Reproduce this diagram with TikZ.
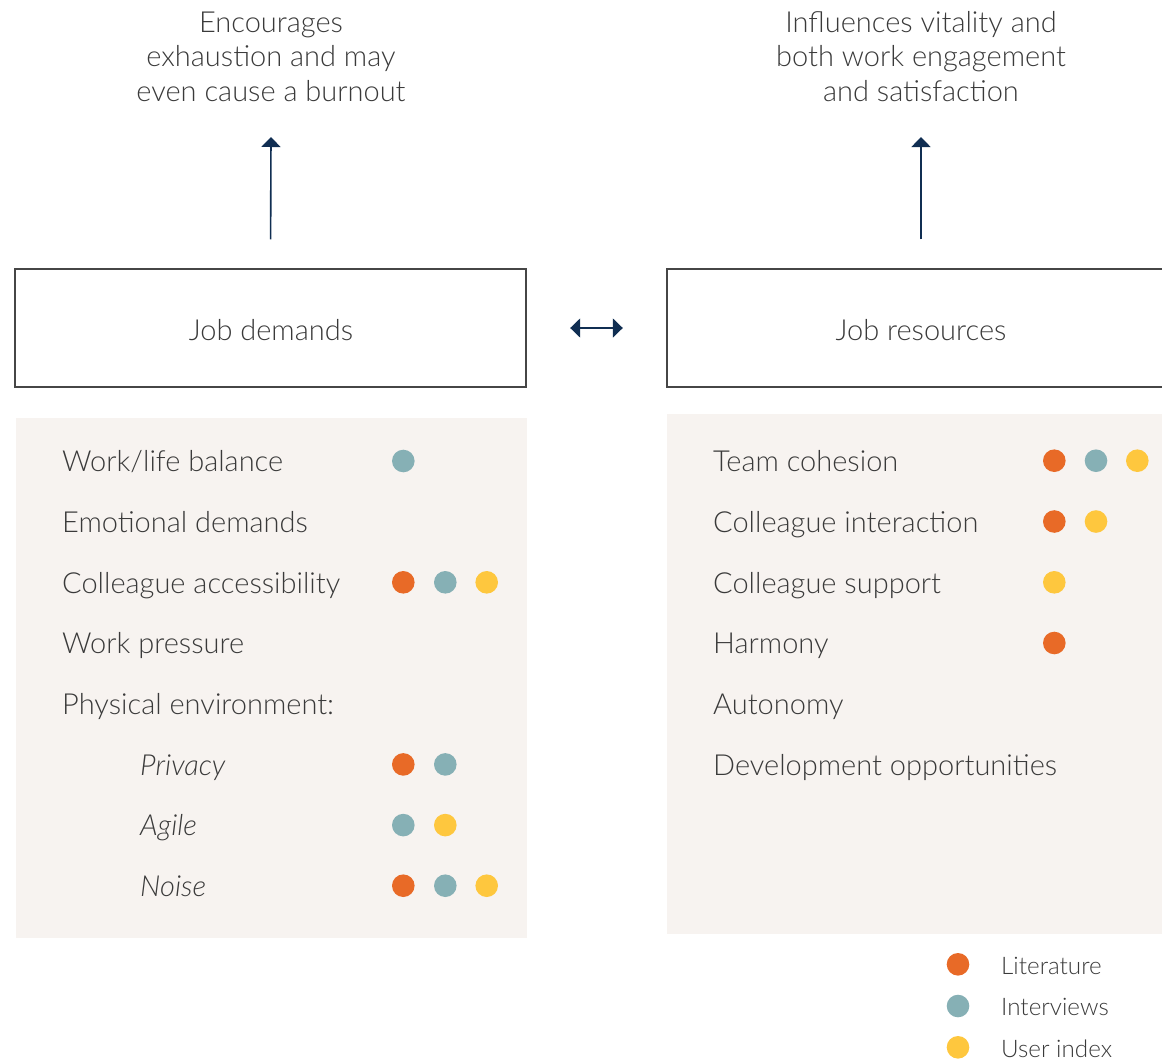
\documentclass[tikz,border=0pt]{standalone}
\usepackage{fontspec}
\setmainfont{Lato}[UprightFont={* Light},ItalicFont={* Light Italic}]
\usetikzlibrary{arrows.meta}

\definecolor{ink}{RGB}{58,58,58}
\definecolor{navy}{RGB}{16,46,82}
\definecolor{panelbg}{RGB}{247,243,240}
\definecolor{framecol}{RGB}{70,70,70}
\definecolor{lit}{RGB}{232,106,39}
\definecolor{intv}{RGB}{134,176,181}
\definecolor{uidx}{RGB}{254,199,62}

\tikzset{
  x=1pt, y=-1pt,
  headline/.style={align=center, inner sep=0pt, text=ink,
    font=\fontsize{29}{34.4}\selectfont},
  mainbox/.style={draw=framecol, line width=1.4pt, inner sep=0pt,
    minimum height=118pt},
  boxlabel/.style={anchor=base, inner sep=0pt, text=ink,
    font=\fontsize{29}{34}\selectfont},
  item/.style={anchor=base west, inner sep=0pt, text=ink,
    font=\fontsize{29}{34}\selectfont},
  subitem/.style={item, font=\fontsize{29}{34}\selectfont\itshape},
  dot/.style={circle, inner sep=0pt, minimum size=22.6pt},
  legtext/.style={anchor=base west, inner sep=0pt, text=ink,
    font=\fontsize{24.2}{30}\selectfont},
  arr/.style={draw=navy, line width=1.6pt,
    -{Triangle[length=10pt,width=19pt]}},
  dblarr/.style={draw=navy, line width=1.6pt,
    {Triangle[length=10pt,width=19pt]}-{Triangle[length=10pt,width=19pt]}},
}

\begin{document}
\begin{tikzpicture}
\useasboundingbox (0,0) rectangle (1162,1061);

% outcome labels (anchored on the baseline of their last line)
\node[headline, anchor=base] (jdout) at (271,101)
  {Encourages\\exhaustion and may\\even cause a burnout};
\node[headline, anchor=base] (jrout) at (921,101)
  {Influences vitality and\\both work engagement\\and satisfaction};
\coordinate (jdtip) at (271,137);
\coordinate (jrtip) at (921,137);

% the two main boxes
\node[mainbox, minimum width=511pt] (jd) at (270.5,328) {};
\node[boxlabel] (jdlbl) at (271,340) {Job demands};
\node[mainbox, minimum width=508pt] (jr) at (921,328) {};
\node[boxlabel] (jrlbl) at (921,340) {Job resources};

% connectors
\draw[arr, shorten <=29pt] (jd.north) -- (jdtip);
\draw[arr, shorten <=29pt] (jr.north) -- (jrtip);
\draw[dblarr, shorten <=43.5pt, shorten >=43.5pt] (jd.east) -- (jr.west);

% background panels
\fill[panelbg] (16,418) rectangle (526.5,937.5);
\fill[panelbg] (667,414) rectangle (1170,934);

% job demands list
\node[item] (d1) at (62,471.8) {Work/life balance};
\node[item] (d2) at (62,532.5) {Emotional demands};
\node[item] (d3) at (62,593.1) {Colleague accessibility};
\node[item] (d4) at (62,653.8) {Work pressure};
\node[item] (d5) at (62,714.5) {Physical environment:};
\node[subitem] (d6) at (140,775.2) {Privacy};
\node[subitem] (d7) at (140,835.9) {Agile};
\node[subitem] (d8) at (140,896.5) {Noise};

\node[dot, fill=intv] (d1b) at (403.3,461) {};
\node[dot, fill=lit]  (d3a) at (403.3,582.3) {};
\node[dot, fill=intv] (d3b) at (445.3,582.3) {};
\node[dot, fill=uidx] (d3c) at (486.7,582.3) {};
\node[dot, fill=lit]  (d6a) at (403.3,764.4) {};
\node[dot, fill=intv] (d6b) at (445.3,764.4) {};
\node[dot, fill=intv] (d7a) at (403.3,825.1) {};
\node[dot, fill=uidx] (d7b) at (445.3,825.1) {};
\node[dot, fill=lit]  (d8a) at (403.3,885.7) {};
\node[dot, fill=intv] (d8b) at (445.3,885.7) {};
\node[dot, fill=uidx] (d8c) at (486.7,885.7) {};

% job resources list
\node[item] (r1) at (713,471.5) {Team cohesion};
\node[item] (r2) at (713,532.3) {Colleague interaction};
\node[item] (r3) at (713,593.1) {Colleague support};
\node[item] (r4) at (713,653.8) {Harmony};
\node[item] (r5) at (713,714.5) {Autonomy};
\node[item] (r6) at (713,775.2) {Development opportunities};

\node[dot, fill=lit]  (r1a) at (1054.3,460.7) {};
\node[dot, fill=intv] (r1b) at (1096,460.7) {};
\node[dot, fill=uidx] (r1c) at (1137.3,460.7) {};
\node[dot, fill=lit]  (r2a) at (1054.3,521.5) {};
\node[dot, fill=uidx] (r2b) at (1096,521.5) {};
\node[dot, fill=uidx] (r3a) at (1054.3,582.3) {};
\node[dot, fill=lit]  (r4a) at (1054.3,643) {};

% legend
\node[dot, fill=lit]  (l1) at (958,964.3) {};
\node[dot, fill=intv] (l2) at (958,1006) {};
\node[dot, fill=uidx] (l3) at (958,1047.3) {};
\node[legtext] (l1t) at (1001,974.3) {Literature};
\node[legtext] (l2t) at (1001,1015.7) {Interviews};
\node[legtext] (l3t) at (1001,1057) {User index};
\end{tikzpicture}
\end{document}
